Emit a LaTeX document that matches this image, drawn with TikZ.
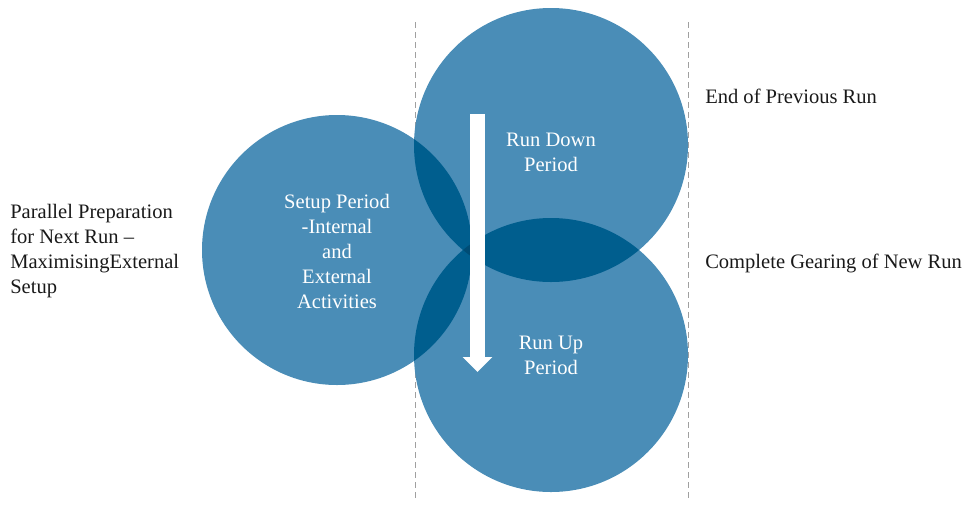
\documentclass[tikz,border=0pt]{standalone}
\usepackage{fontspec}
\setmainfont{Liberation Serif}
\usetikzlibrary{arrows.meta}
\definecolor{lightblue}{HTML}{4A8DB7}
\definecolor{darkblue}{HTML}{005E8E}
\definecolor{deepblue}{HTML}{004C75}
\definecolor{guide}{HTML}{A0A0A0}

\begin{document}
\begin{tikzpicture}[x=0.75pt, y=-0.75pt,
  every node/.style={font=\fontsize{15.4}{18.75}\selectfont},
  ring/.style={circle, fill=lightblue, minimum size=205.5pt, inner sep=0pt},
  inlabel/.style={text=white, align=center},
  outlabel/.style={text=black!90, align=left, anchor=west, inner sep=0pt},
  guideline/.style={draw=guide, line width=0.75pt, dash pattern=on 4.5pt off 3pt}]
			\useasboundingbox (0,0) rectangle (966,504);

			% guides
			\coordinate (g1a) at (415,22);
			\coordinate (g1b) at (415,498);
			\coordinate (g2a) at (688,22);
			\coordinate (g2b) at (688,498);
			\path[guideline] (g1a) -- (g1b);
			\path[guideline] (g2a) -- (g2b);

			% circles
			\node[ring] (top) at (551,145){};
			\node[ring] (bot) at (551,355){};
			\node[ring, minimum size=202.5pt] (left) at (337,250){};

			% overlaps
			\begin{scope}
				\clip (top.center) circle (102.75pt);
				\fill[darkblue] (bot.center) circle (102.75pt);
			\end{scope}
			\begin{scope}
				\clip (top.center) circle (102.75pt);
				\fill[darkblue] (left.center) circle (101.25pt);
			\end{scope}
			\begin{scope}
				\clip (bot.center) circle (102.75pt);
				\fill[darkblue] (left.center) circle (101.25pt);
			\end{scope}
			\begin{scope}
				\clip (bot.center) circle (102.75pt);
				\clip (top.center) circle (102.75pt);
				\fill[deepblue] (left.center) circle (101.25pt);
			\end{scope}

			% arrow
			\coordinate (start) at (477.5,114);
			\coordinate (finish) at (477.5,372);
			\draw[white, line width=11.25pt, -{Triangle[width=21.75pt, length=11.25pt]}] (start) -- (finish);

			% texts
			\node[inlabel] (toptext) at (551,152) {Run Down\\Period};
			\node[inlabel] (bottext) at (551,355) {Run Up\\Period};
			\node[inlabel] (lefttext) at (337,251) {Setup Period\\-Internal\\and\\External\\Activities};
			\node[outlabel] (prep) at (10,251) {Parallel Preparation\\for Next Run --\\MaximisingExternal\\Setup};
			\node[outlabel] (prev) at (705,96) {End of Previous Run};
			\node[outlabel] (gear) at (705,263) {Complete Gearing of New Run};
\end{tikzpicture}
\end{document}
